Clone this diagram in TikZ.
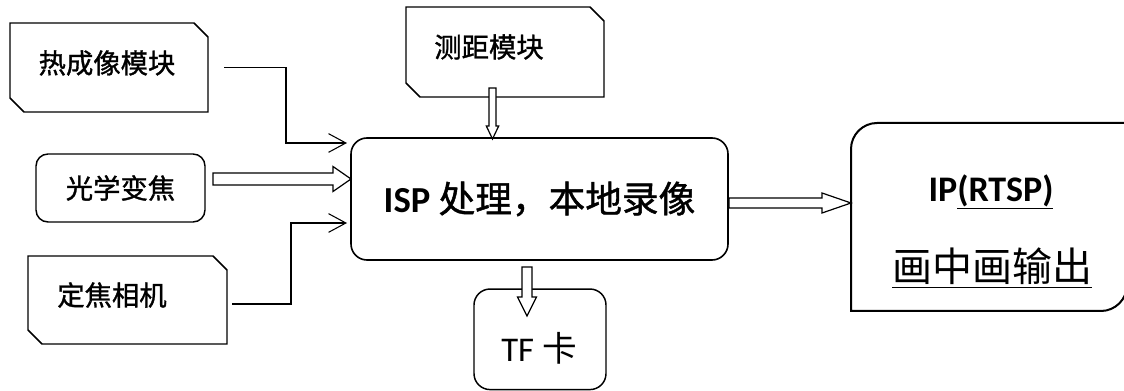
\documentclass[tikz,border=0pt]{standalone}
\usepackage{fontspec}
\setmainfont{Carlito}
\newfontfamily\cjk[FakeBold=1.2]{Noto Sans CJK SC}
\newfontfamily\cjkthin{Noto Sans CJK SC}
\usetikzlibrary{calc,arrows.meta}
\tikzset{
  frame/.style={rectangle, inner sep=0pt, outer sep=0pt},
  rbox/.style={frame, draw=black, line width=1.1pt, rounded corners=#1},
  boxline/.style={draw=black, line width=1.1pt, line join=miter},
  lbl/.style={inner sep=0pt, font=\fontsize{20.5}{24}\selectfont\cjk},
  conn/.style={draw=black, line width=0.8pt, -{Straight Barb[length=13pt,width=14pt]}},
  blk/.style={draw=black, fill=white, line width=0.9pt, line join=miter},
}
\newcommand\cutframe[1]{\draw[boxline] (#1.north west) -- ([xshift=-10.5pt]#1.north east) -- ([yshift=-10.5pt]#1.north east) -- (#1.south east) -- ([xshift=10.5pt]#1.south west) -- ([yshift=10.5pt]#1.south west) -- cycle;}
% right-pointing block arrow: start, tip, shaft half, head half, head length (px)
\newcommand\blockR[5]{\draw[blk] ($(#1)+(0,-#3)$) -- ($(#2)+(-#5,-#3)$) -- ($(#2)+(-#5,-#4)$) -- (#2) -- ($(#2)+(-#5,#4)$) -- ($(#2)+(-#5,#3)$) -- ($(#1)+(0,#3)$) -- cycle;}
% down-pointing block arrow
\newcommand\blockD[5]{\draw[blk] ($(#1)+(-#3,0)$) -- ($(#2)+(-#3,-#5)$) -- ($(#2)+(-#4,-#5)$) -- (#2) -- ($(#2)+(#4,-#5)$) -- ($(#2)+(#3,-#5)$) -- ($(#1)+(#3,0)$) -- cycle;}
\begin{document}
\begin{tikzpicture}[x=0.75pt,y=-0.75pt]
\useasboundingbox (0,0) rectangle (1124,391);
% boxes
\node[frame, minimum width=148.5pt, minimum height=66.75pt] (therm) at (109,67.5) {};
\node[frame, minimum width=149.25pt, minimum height=66pt] (fixed) at (127.5,300) {};
\node[frame, minimum width=148.5pt, minimum height=67.5pt] (range) at (505,52) {};
\cutframe{therm}
\cutframe{fixed}
\cutframe{range}
\node[lbl] (thermT) at (107,63) {热成像模块};
\node[lbl] (fixedT) at (112,295) {定焦相机};
\node[lbl] (rangeT) at (489,47) {测距模块};
\node[rbox=9pt, minimum width=126.75pt, minimum height=51pt, font=\fontsize{20.5}{24}\selectfont\cjk] (opt) at (120.5,188) {\raisebox{-1.5pt}{光学变焦}};
\node[rbox=12pt, minimum width=282.75pt, minimum height=91.5pt, line width=1.2pt, font=\fontsize{27.5}{32}\selectfont] (isp) at (539.5,199) {\textbf{ISP} {\cjk 处理，本地录像}};
\node[rbox=12pt, minimum width=99pt, minimum height=75.4pt] (tf) at (540,339.3) {};
\node[inner sep=0pt, font=\fontsize{26}{30}\selectfont] (tfT) at (539,348) {TF {\cjkthin 卡}};
% IP output box
\node[frame, minimum width=207pt, minimum height=141pt] (ip) at (989,217) {};
\draw[line width=1.5pt] (ip.south west) -- ([yshift=-19.5pt]ip.north west)
  .. controls ([yshift=-8.8pt]ip.north west) and ([xshift=8.8pt]ip.north west) .. ([xshift=19.5pt]ip.north west)
  -- (ip.north east) -- ([yshift=19.5pt]ip.south east)
  .. controls ([yshift=8.8pt]ip.south east) and ([xshift=-8.8pt]ip.south east) .. ([xshift=-19.5pt]ip.south east)
  -- cycle;
\node[inner sep=0pt, font=\fontsize{27}{32}\selectfont\bfseries] (ipT1) at (991,192) {IP\underline{(RTSP)}};
\node[inner sep=0pt, font=\fontsize{30}{36}\selectfont\cjkthin] (ipT2) at (992,268) {\underline{画中画输出}};
% thin connectors
\coordinate (l1s) at ($(therm.east)+(16,0)$);
\coordinate (l1e) at ($(isp.west)+(-4,-56)$);
\draw[conn] (l1s) -- ++(62,0) |- (l1e);
\coordinate (l2s) at ($(fixed.east)+(5,4)$);
\coordinate (l2e) at ($(isp.west)+(-4,24)$);
\draw[conn] (l2s) -- ++(59,0) |- (l2e);
% block arrows
\coordinate (a3s) at ($(opt.east)+(8,-9)$);
\coordinate (a3e) at (isp.west |- a3s);
\blockR{a3s}{a3e}{6}{12.5}{18}
\coordinate (a4s) at ($(range.south)+(-12.5,-9)$);
\coordinate (a4e) at ($(a4s |- isp.north)+(0,1)$);
\blockD{a4s}{a4e}{3.5}{6.2}{13}
\coordinate (a5s) at ($(isp.south)+(-12.5,7)$);
\coordinate (a5e) at ($(a5s |- tf.north)+(0,27)$);
\blockD{a5s}{a5e}{5}{9.5}{19}
\coordinate (a6s) at ($(isp.east)+(1,4)$);
\coordinate (a6e) at (ip.west |- a6s);
\blockR{a6s}{a6e}{5}{10}{29}
\end{tikzpicture}
\end{document}
